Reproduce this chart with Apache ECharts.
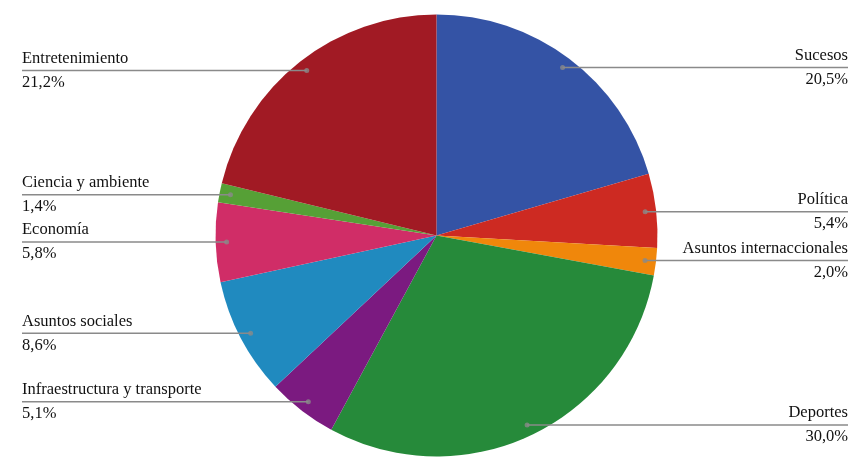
<!DOCTYPE html>
<html>
<head>
<meta charset="utf-8">
<script src="https://cdn.jsdelivr.net/npm/echarts@6/dist/echarts.min.js"></script>
<style>html,body{margin:0;padding:0;background:#fff}#c{width:861px;height:468px}</style>
</head>
<body>
<div id="c"></div>
<script>
var categories = ['Sucesos', 'Política', 'Asuntos internaccionales', 'Deportes', 'Infraestructura y transporte', 'Asuntos sociales', 'Economía', 'Ciencia y ambiente', 'Entretenimiento'];
var values = [20.5, 5.4, 2.0, 30.0, 5.1, 8.6, 5.8, 1.4, 21.2];
var colors = ['#3453a5', '#cd2a22', '#f0870b', '#268a3a', '#7b1a80', '#208abf', '#d02d67', '#56a036', '#a11a24'];

var chart = echarts.init(document.getElementById('c'));
var CX = 436.5, CY = 235.5, R = 221, RL = 210;
var LEFTX = 22, RIGHTX = 848;

var total = values.reduce(function(a, b){ return a + b; }, 0);
var dots = [];
var acc = 0;
for (var i = 0; i < values.length; i++) {
  dots.push([RL, acc + values[i] / 2]);
  acc += values[i];
}

function fmt(v) { return v.toFixed(1).replace('.', ',') + '%'; }

var pieData = categories.map(function(c, i){
  return { name: c, value: values[i], itemStyle: { color: colors[i] } };
});
var labelData = categories.map(function(c, i){
  return { name: c, value: values[i] };
});

chart.setOption({
  animation: false,
  polar: { center: [CX, CY], radius: RL },
  angleAxis: { type: 'value', min: 0, max: total, startAngle: 90, clockwise: true, show: false },
  radiusAxis: { type: 'value', min: 0, max: RL, show: false },
  series: [
    {
      type: 'pie',
      center: [CX, CY],
      radius: R,
      startAngle: 90,
      clockwise: true,
      silent: true,
      label: { show: false },
      labelLine: { show: false },
      itemStyle: { borderWidth: 0 },
      data: pieData,
      z: 1
    },
    {
      type: 'pie',
      center: [CX, CY],
      radius: RL,
      startAngle: 90,
      clockwise: true,
      silent: true,
      itemStyle: { color: 'rgba(0,0,0,0)', borderWidth: 0 },
      label: {
        show: true,
        alignTo: 'edge',
        edgeDistance: 22,
        formatter: function(p){ return p.name + '\n' + fmt(p.value); },
        fontFamily: 'Liberation Serif, Times New Roman, serif',
        fontSize: 16.5,
        lineHeight: 24,
        color: '#111'
      },
      labelLine: {
        show: true,
        length: 0,
        length2: 10,
        lineStyle: { color: '#8a8a8a', width: 1.5 }
      },
      labelLayout: function(params) {
        var isLeft = params.labelRect.x < CX;
        var pts = params.labelLinePoints;
        if (pts) {
          pts[2][0] = isLeft ? LEFTX : RIGHTX;
          pts[2][1] = pts[0][1];
          pts[1][1] = pts[0][1];
        }
        return {
          x: isLeft ? LEFTX : RIGHTX,
          y: pts ? pts[0][1] : params.labelRect.y,
          align: isLeft ? 'left' : 'right',
          verticalAlign: 'middle',
          labelLinePoints: pts
        };
      },
      data: labelData,
      z: 2
    },
    {
      type: 'scatter',
      coordinateSystem: 'polar',
      symbol: 'circle',
      symbolSize: 5,
      silent: true,
      itemStyle: { color: '#8a8a8a' },
      data: dots,
      z: 3
    }
  ]
});
</script>
</body>
</html>
